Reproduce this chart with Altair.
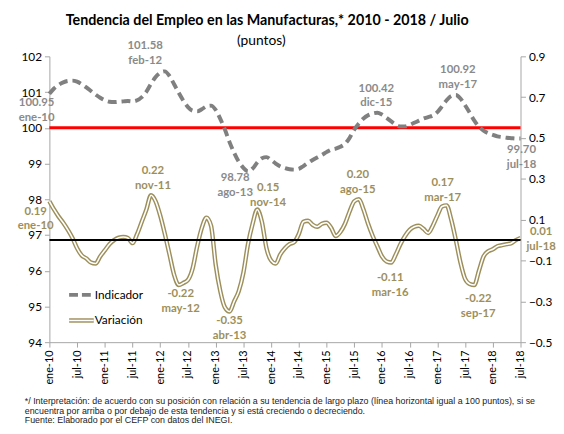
import altair as alt
import pandas as pd

# ---------------- data ----------------
months = list(range(103))  # 0 = ene-10 ... 102 = jul-18

indicador = [
    100.95, 101.10, 101.20, 101.27, 101.31, 101.32, 101.29, 101.22, 101.13, 101.03,
    100.93, 100.84, 100.77, 100.73, 100.72, 100.73, 100.74, 100.75, 100.74, 100.77,
    100.86, 101.01, 101.23, 101.42, 101.54, 101.58, 101.45, 101.22, 100.98, 100.76,
    100.58, 100.48, 100.46, 100.52, 100.60, 100.62, 100.50, 100.25, 99.95, 99.60,
    99.30, 99.05, 98.88, 98.78, 98.86, 99.03, 99.15, 99.18, 99.10, 99.00,
    98.92, 98.87, 98.84, 98.83, 98.85, 98.93, 99.02, 99.10, 99.17, 99.24,
    99.32, 99.39, 99.42, 99.47, 99.55, 99.72, 99.95, 100.12, 100.26, 100.35,
    100.40, 100.42, 100.37, 100.28, 100.18, 100.09, 100.04, 100.04, 100.08, 100.14,
    100.20, 100.26, 100.30, 100.34, 100.44, 100.60, 100.77, 100.89, 100.92, 100.82,
    100.63, 100.42, 100.20, 100.03, 99.92, 99.85, 99.80, 99.76, 99.74, 99.72,
    99.71, 99.70, 99.70,
]

variacion = [
    0.19, 0.15, 0.115, 0.085, 0.05, 0.01, -0.04, -0.075, -0.09, -0.11,
    -0.115, -0.08, -0.05, -0.02, 0.00, 0.012, 0.015, 0.01, -0.015, 0.03,
    0.09, 0.15, 0.22, 0.19, 0.12, 0.03, -0.07, -0.17, -0.22, -0.21,
    -0.195, -0.14, -0.03, 0.06, 0.11, 0.07, -0.12, -0.25, -0.33, -0.35,
    -0.30, -0.25, -0.16, -0.02, 0.08, 0.15, 0.09, -0.04, -0.10, -0.115,
    -0.07, -0.04, -0.02, -0.01, 0.03, 0.09, 0.095, 0.075, 0.065, 0.08,
    0.085, 0.06, 0.02, 0.04, 0.08, 0.14, 0.19, 0.20, 0.15, 0.08,
    0.02, -0.03, -0.08, -0.105, -0.11, -0.07, -0.02, 0.02, 0.05, 0.065,
    0.07, 0.055, 0.035, 0.07, 0.12, 0.165, 0.17, 0.10, 0.00, -0.11,
    -0.19, -0.215, -0.22, -0.15, -0.08, -0.055, -0.045, -0.03, -0.025, -0.02,
    -0.015, 0.00, 0.01,
]

x_tick_values = list(range(0, 103, 6))
x_tick_labels = ["ene-10", "jul-10", "ene-11", "jul-11", "ene-12", "jul-12",
                 "ene-13", "jul-13", "ene-14", "jul-14", "ene-15", "jul-15",
                 "ene-16", "jul-16", "ene-17", "jul-17", "ene-18", "jul-18"]
left_ticks = [94, 95, 96, 97, 98, 99, 100, 101, 102]
right_ticks = [-0.5, -0.3, -0.1, 0.1, 0.3, 0.5, 0.7, 0.9]

ind_lab_m = [0, 25, 43, 71, 88, 102]
ind_lab_val = ["100.95", "101.58", "98.78", "100.42", "100.92", "99.70"]
ind_lab_mes = ["ene-10", "feb-12", "ago-13", "dic-15", "may-17", "jul-18"]

var_lab_m = [0, 22, 28, 39, 45, 67, 74, 86, 92, 102]
var_lab_val = ["0.19", "0.22", "-0.22", "-0.35", "0.15", "0.20", "-0.11", "0.17", "-0.22", "0.01"]
var_lab_mes = ["ene-10", "nov-11", "may-12", "abr-13", "nov-14", "ago-15", "mar-16", "mar-17", "sep-17", "jul-18"]

linea_tendencia = [100]
linea_cero = [0]

titulo = "Tendencia del Empleo en las Manufacturas,* 2010 - 2018 / Julio"
subtitulo = "(puntos)"
leyenda = ["Indicador", "Variación"]
nota = [
    "*/ Interpretación: de acuerdo con su posición con relación a su tendencia de largo plazo (línea horizontal igual a 100 puntos), si se",
    "encuentra por arriba o por debajo de esta tendencia y si está creciendo o decreciendo.",
    "Fuente: Elaborado por el CEFP con datos del INEGI.",
]

# ---------------- styles / positions (not data) ----------------
FONT = "Lato"
GRAY = "#8a8a8a"
LINE_GRAY = "#808080"
OLIVE = "#9d8f5b"
AXIS_COL = "#a6a6a6"
LAB_SIZE = 11.5

# offsets of the first text line from the data point
ind_offsets = [(-13, 9.5), (-20, -25.5), (-13, 6.5), (-1, -24.5), (2, -25.5), (1, 11.5)]
var_offsets = [(-14, 10.5), (2, -24.5), (2, 9.5), (0, 9.5), (11, -21.5), (-1, -24.5),
               (-1, 15.5), (-4, -22.5), (4, 14.5), (21, -6)]

df = pd.DataFrame({"m": months, "ind": indicador, "var": variacion})

label_expr = "[" + ",".join("'" + s + "'" for s in x_tick_labels) + "][round(datum.value / 6)]"
x_scale = alt.Scale(domain=[0, 102], nice=False, zero=False)
x_axis = alt.Axis(values=x_tick_values, labelExpr=label_expr, labelAngle=-90, title=None,
                  grid=False, labelFontSize=11, labelFont=FONT, labelColor="#000000",
                  domainColor=AXIS_COL, tickColor=AXIS_COL, tickSize=5, labelPadding=3)
left_scale = alt.Scale(domain=[94, 102], nice=False, zero=False)
right_scale = alt.Scale(domain=[-0.5, 0.9], nice=False, zero=False)
left_axis = alt.Axis(values=left_ticks, orient="left", title=None, grid=False,
                     labelFontSize=12, labelFont=FONT, labelColor="#000000",
                     domainColor=AXIS_COL, tickColor=AXIS_COL, tickSize=5, labelPadding=3)
right_axis = alt.Axis(values=right_ticks, orient="right", format=".1f", title=None, grid=False,
                      labelFontSize=12, labelFont=FONT, labelColor="#000000",
                      domainColor=AXIS_COL, tickColor=AXIS_COL, tickSize=5, labelPadding=3)


def X(field):
    return alt.X(field, scale=x_scale, axis=x_axis)


def YL(field):
    return alt.Y(field, scale=left_scale, axis=left_axis)


def YR(field):
    return alt.Y(field, scale=right_scale, axis=right_axis)


# ---------------- left (Indicador) ----------------
red_rule = alt.Chart(pd.DataFrame({"v": linea_tendencia})).mark_rule(
    color="#ff0000", strokeWidth=3).encode(y=YL("v:Q"))

ind_line = alt.Chart(df).mark_line(
    color=LINE_GRAY, strokeWidth=4, strokeDash=[9, 5], interpolate="monotone").encode(
    x=X("m:Q"), y=YL("ind:Q"))

ind_labels = []
for i, m in enumerate(ind_lab_m):
    d = pd.DataFrame({"m": [m], "y": [indicador[m]], "t": [ind_lab_val[i] + "\n" + ind_lab_mes[i]]})
    dx, dy = ind_offsets[i]
    ind_labels.append(alt.Chart(d).mark_text(
        dx=dx, dy=dy, font=FONT, fontSize=LAB_SIZE, fontWeight="bold", color=GRAY,
        lineBreak="\n", lineHeight=15, align="center", baseline="middle").encode(
        x=X("m:Q"), y=YL("y:Q"), text="t:N"))

left_layer = alt.layer(red_rule, ind_line, *ind_labels)

# ---------------- right (Variación) ----------------
var_outer = alt.Chart(df).mark_line(
    color=OLIVE, strokeWidth=4.5, interpolate="monotone").encode(x=X("m:Q"), y=YR("var:Q"))
var_inner = alt.Chart(df).mark_line(
    color="#ffffff", strokeWidth=1.6, interpolate="monotone").encode(x=X("m:Q"), y=YR("var:Q"))
black_rule = alt.Chart(pd.DataFrame({"v": linea_cero})).mark_rule(
    color="#000000", strokeWidth=2).encode(y=YR("v:Q"))

var_labels = []
for i, m in enumerate(var_lab_m):
    d = pd.DataFrame({"m": [m], "y": [variacion[m]], "t": [var_lab_val[i] + "\n" + var_lab_mes[i]]})
    dx, dy = var_offsets[i]
    var_labels.append(alt.Chart(d).mark_text(
        dx=dx, dy=dy, font=FONT, fontSize=LAB_SIZE, fontWeight="bold", color=OLIVE,
        lineBreak="\n", lineHeight=15, align="center", baseline="middle").encode(
        x=X("m:Q"), y=YR("y:Q"), text="t:N"))

right_layer = alt.layer(var_outer, var_inner, black_rule, *var_labels)

# ---------------- legend, titles & footnote ----------------
leg_ind = alt.Chart(pd.DataFrame({"t": [leyenda[0]]})).mark_rule(
    color=LINE_GRAY, strokeWidth=4, strokeDash=[9, 4]).encode(
    x=alt.value(20), x2=alt.value(43), y=alt.value(242))
leg_var_o = alt.Chart(pd.DataFrame({"t": [leyenda[1]]})).mark_rule(color=OLIVE, strokeWidth=4.5).encode(
    x=alt.value(20), x2=alt.value(45), y=alt.value(268))
leg_var_i = alt.Chart(pd.DataFrame({"t": [leyenda[1]]})).mark_rule(color="#ffffff", strokeWidth=1.6).encode(
    x=alt.value(20), x2=alt.value(45), y=alt.value(268))
leg_text_1 = alt.Chart(pd.DataFrame({"t": [leyenda[0]]})).mark_text(
    align="left", baseline="middle", font=FONT, fontSize=12, color="#000000").encode(
    x=alt.value(46), y=alt.value(242), text="t:N")
leg_text_2 = alt.Chart(pd.DataFrame({"t": [leyenda[1]]})).mark_text(
    align="left", baseline="middle", font=FONT, fontSize=12, color="#000000").encode(
    x=alt.value(46), y=alt.value(268), text="t:N")

title_text = alt.Chart(pd.DataFrame({"t": [titulo]})).mark_text(
    align="center", baseline="middle", font=FONT, fontSize=14.5, fontWeight="bold",
    color="#000000").encode(x=alt.value(221), y=alt.value(-36), text="t:N")
subtitle_text = alt.Chart(pd.DataFrame({"t": [subtitulo]})).mark_text(
    align="center", baseline="middle", font=FONT, fontSize=14,
    color="#000000").encode(x=alt.value(215), y=alt.value(-16), text="t:N")

foot = alt.Chart(pd.DataFrame({"t": ["\n".join(nota)]})).mark_text(
    align="left", baseline="top", font="Liberation Sans Narrow, Liberation Sans", fontSize=9,
    lineBreak="\n", lineHeight=9.6, color="#222222").encode(
    x=alt.value(-25), y=alt.value(346), text="t:N")

chart = alt.layer(left_layer, right_layer, leg_ind, leg_var_o, leg_var_i,
                  leg_text_1, leg_text_2, title_text, subtitle_text, foot).resolve_scale(
    y="independent"
).properties(
    width=478, height=290,
    autosize=alt.AutoSizeParams(type="none"),
    padding={"left": 42, "top": 46, "right": 36, "bottom": 82},
).configure_view(stroke=None)

chart.save("out.html", embed_options={"renderer": "svg", "actions": False})
